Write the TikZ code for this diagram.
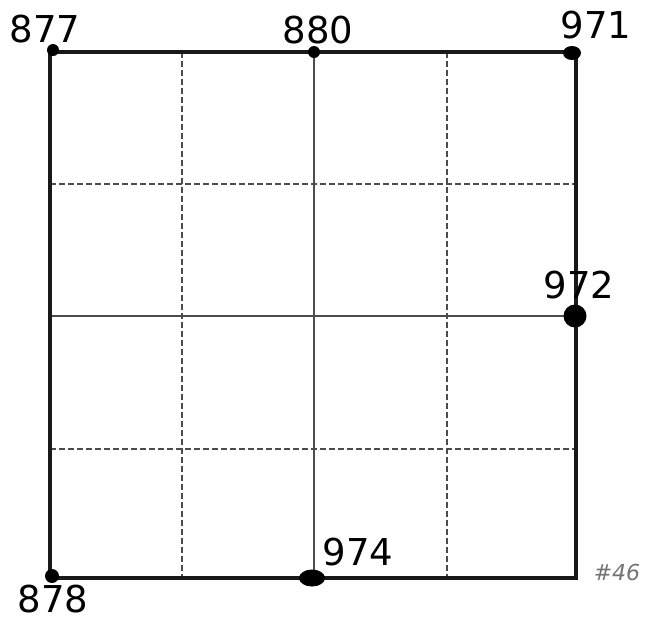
\documentclass[tikz,border=0pt]{standalone}
\usepackage{fontspec}
\setmainfont{DejaVu Sans}
\usetikzlibrary{shapes.geometric}
\begin{document}
\begin{tikzpicture}[x=1pt,y=-1pt,
  outer/.style={line width=3.2pt,black!90},
  midline/.style={line width=1.8pt,black!70},
  gridd/.style={line width=1.5pt,black!70,dash pattern=on 6pt off 3pt},
  dot/.style={circle,fill=black,inner sep=0pt},
  lbl/.style={font=\fontsize{37}{39}\selectfont,inner sep=0pt}]
\useasboundingbox (0,0) rectangle (648,622);
\fill[white] (0,0) rectangle (648,622);
% corners
\coordinate (tl) at (50,52);
\coordinate (tr) at (576,52);
\coordinate (br) at (576,578);
\coordinate (bl) at (50,578);
% grid coordinates
\coordinate (t1) at (182,52); \coordinate (b1) at (182,578);
\coordinate (t2) at (314,52); \coordinate (b2) at (314,578);
\coordinate (t3) at (447,52); \coordinate (b3) at (447,578);
\coordinate (l1) at (50,184); \coordinate (r1) at (576,184);
\coordinate (l2) at (50,316); \coordinate (r2) at (576,316);
\coordinate (l3) at (50,449); \coordinate (r3) at (576,449);
\draw[gridd] (t1) -- (b1);
\draw[gridd] (t3) -- (b3);
\draw[gridd] (l1) -- (r1);
\draw[gridd] (l3) -- (r3);
\draw[midline] (t2) -- (b2);
\draw[midline] (l2) -- (r2);
\draw[outer] (tl) -- (tr) -- (br) -- (bl) -- cycle;
% dots
\node[dot,minimum size=12pt] (d877) at (53,50) {};
\node[dot,minimum size=12pt] (d880) at (314,52) {};
\node[dot,ellipse,minimum width=18pt,minimum height=14pt] (d971) at (572,53) {};
\node[dot,minimum size=23pt] (d972) at (575,316) {};
\node[dot,ellipse,minimum width=26pt,minimum height=17pt] (d974) at (312,578) {};
\node[dot,minimum size=14pt] (d878) at (52,576) {};
% labels
\node[lbl] (n877) at (45,29) {877};
\node[lbl] (n880) at (318,30) {880};
\node[lbl] (n971) at (596,25) {971};
\node[lbl] (n972) at (579,285) {972};
\node[lbl] (n974) at (358,552) {974};
\node[lbl] (n878) at (53,599) {878};
\node[font=\fontsize{22}{24}\selectfont\itshape,text=black!55,inner sep=0pt] (n46) at (617,572) {\#46};
\end{tikzpicture}
\end{document}
